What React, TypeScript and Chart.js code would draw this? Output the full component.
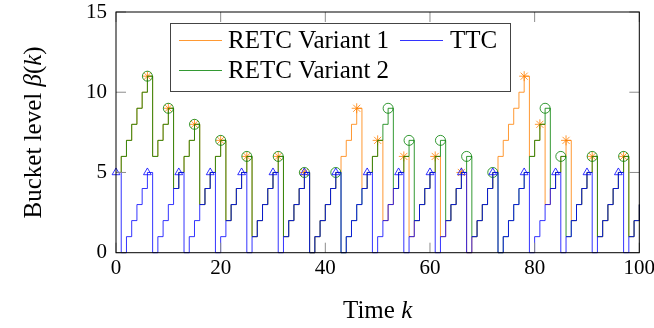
import { useEffect, useRef } from 'react';
import { Chart, registerables } from 'chart.js';

Chart.register(...registerables);

// Bucket level per time step k = 0..100
const RETC_V1 = [
  5, 6, 7, 8, 9, 10, 11,
  6, 7, 8, 9,
  4, 5, 6, 7, 8,
  3, 4, 5, 6, 7,
  2, 3, 4, 5, 6,
  1, 2, 3, 4, 5, 6,
  1, 2, 3, 4, 5,
  0, 1, 2, 3, 4, 5, 6, 7, 8, 9,
  4, 5, 6, 7,
  2, 3, 4, 5, 6,
  1, 2, 3, 4, 5, 6,
  1, 2, 3, 4, 5,
  0, 1, 2, 3, 4, 5, 6, 7, 8, 9, 10, 11,
  6, 7, 8,
  3, 4, 5, 6, 7,
  2, 3, 4, 5, 6,
  1, 2, 3, 4, 5, 6,
  1, 2, 3,
];

const TTC = [
  5, 0, 1, 2, 3, 4,
  5, 0, 1, 2, 3, 4,
  5, 0, 1, 2, 3, 4,
  5, 0, 1, 2, 3, 4,
  5, 0, 1, 2, 3, 4,
  5, 0, 1, 2, 3, 4,
  5, 0, 1, 2, 3, 4,
  5, 0, 1, 2, 3, 4,
  5, 0, 1, 2, 3, 4,
  5, 0, 1, 2, 3, 4,
  5, 0, 1, 2, 3, 4,
  5, 0, 1, 2, 3, 4,
  5, 0, 1, 2, 3, 4,
  5, 0, 1, 2, 3, 4,
  5, 0, 1, 2, 3, 4,
  5, 0, 1, 2, 3, 4,
  5, 0, 1, 2, 3,
];

const RETC_V2 = [
  5, 6, 7, 8, 9, 10, 11,
  6, 7, 8, 9,
  4, 5, 6, 7, 8,
  3, 4, 5, 6, 7,
  2, 3, 4, 5, 6,
  1, 2, 3, 4, 5, 6,
  1, 2, 3, 4, 5,
  0, 1, 2, 3, 4, 5,
  0, 1, 2, 3, 4, 5, 6, 7, 8, 9,
  4, 5, 6, 7,
  2, 3, 4, 5, 6, 7,
  2, 3, 4, 5, 6,
  1, 2, 3, 4, 5,
  0, 1, 2, 3, 4, 5, 6, 7, 8, 9,
  4, 5, 6,
  1, 2, 3, 4, 5, 6,
  1, 2, 3, 4, 5, 6,
  1, 2, 3,
];

const X_TICKS = [0, 20, 40, 60, 80, 100];
const Y_TICKS = [0, 5, 10, 15];
const SERIES_LABELS = ['RETC Variant 1', 'TTC', 'RETC Variant 2'];

const ORANGE = 'rgba(255,128,0,0.8)';
const BLUE = 'rgba(0,0,255,0.8)';
const GREEN = 'rgba(0,128,0,0.8)';
const SERIF = '"Liberation Serif", "Times New Roman", serif';

type Seg = { t: string; it?: boolean };

function drawSegs(ctx: CanvasRenderingContext2D, segs: Seg[], cx: number, baseY: number, size: number) {
  const widths = segs.map((s) => {
    ctx.font = `${s.it ? 'italic ' : ''}${size}px ${SERIF}`;
    return ctx.measureText(s.t).width;
  });
  const total = widths.reduce((a, b) => a + b, 0);
  let x = cx - total / 2;
  ctx.textAlign = 'left';
  ctx.textBaseline = 'alphabetic';
  segs.forEach((s, i) => {
    ctx.font = `${s.it ? 'italic ' : ''}${size}px ${SERIF}`;
    ctx.fillText(s.t, x, baseY);
    x += widths[i];
  });
}

const decorPlugin = {
  id: 'decor',
  afterDatasetsDraw(chart: any) {
    const { ctx, chartArea: a, scales } = chart;
    const xs = scales.x;
    const ys = scales.y;
    ctx.save();
    ctx.strokeStyle = '#8c8c8c';
    ctx.lineWidth = 1;
    const TL = 10;
    ctx.beginPath();
    for (const v of X_TICKS) {
      const px = xs.getPixelForValue(v);
      ctx.moveTo(px, a.bottom);
      ctx.lineTo(px, a.bottom - TL);
      ctx.moveTo(px, a.top);
      ctx.lineTo(px, a.top + TL);
    }
    for (const v of Y_TICKS) {
      const py = ys.getPixelForValue(v);
      ctx.moveTo(a.left, py);
      ctx.lineTo(a.left + TL, py);
      ctx.moveTo(a.right, py);
      ctx.lineTo(a.right - TL, py);
    }
    ctx.stroke();
    ctx.strokeStyle = '#000';
    ctx.strokeRect(a.left, a.top, a.right - a.left, a.bottom - a.top);
    ctx.restore();
  },
  afterDraw(chart: any) {
    const { ctx, chartArea: a } = chart;
    ctx.save();
    ctx.fillStyle = '#000';
    // x title
    drawSegs(ctx, [{ t: 'Time ' }, { t: 'k', it: true }], (a.left + a.right) / 2, 318, 25);
    // y title
    ctx.save();
    ctx.translate(41, (a.top + a.bottom) / 2);
    ctx.rotate(-Math.PI / 2);
    drawSegs(
      ctx,
      [{ t: 'Bucket level ' }, { t: 'β', it: true }, { t: '(' }, { t: 'k', it: true }, { t: ')' }],
      0,
      0,
      25
    );
    ctx.restore();

    // legend
    const bx = 170.5, by = 23.5, bw = 340, bh = 68;
    ctx.fillStyle = '#fff';
    ctx.fillRect(bx, by, bw, bh);
    ctx.strokeStyle = '#444';
    ctx.lineWidth = 1;
    ctx.strokeRect(bx, by, bw, bh);
    const entries = [
      { label: SERIES_LABELS[0], color: ORANGE, lx: 179, tx: 228, ly: 40.5, ty: 47.5 },
      { label: SERIES_LABELS[1], color: BLUE, lx: 400, tx: 450, ly: 40.5, ty: 47.5 },
      { label: SERIES_LABELS[2], color: GREEN, lx: 179, tx: 228, ly: 70.5, ty: 77.5 },
    ];
    for (const e of entries) {
      ctx.strokeStyle = e.color;
      ctx.beginPath();
      ctx.moveTo(e.lx, e.ly);
      ctx.lineTo(e.lx + 43, e.ly);
      ctx.stroke();
      ctx.fillStyle = '#000';
      ctx.font = `25px ${SERIF}`;
      ctx.textAlign = 'left';
      ctx.textBaseline = 'alphabetic';
      ctx.fillText(e.label, e.tx, e.ty);
    }
    ctx.restore();
  },
};

function markerRadius(values: number[], r: number) {
  return (c: any) => {
    const i = c.dataIndex;
    return i < values.length - 1 && values[i + 1] < values[i] ? r : 0;
  };
}

function toPoints(values: number[]) {
  return values.map((v, i) => ({ x: i, y: v }));
}

export default function App() {
  const ref = useRef<HTMLCanvasElement | null>(null);

  useEffect(() => {
    if (!ref.current) return;
    const chart = new Chart(ref.current, {
      type: 'line',
      data: {
        datasets: [
          {
            label: SERIES_LABELS[0],
            data: toPoints(RETC_V1),
            borderColor: ORANGE,
            borderWidth: 1,
            stepped: true,
            pointStyle: 'star',
            pointRadius: markerRadius(RETC_V1, 5),
            pointBorderColor: ORANGE,
            pointBackgroundColor: 'transparent',
            pointBorderWidth: 1,
            order: 2,
            clip: false,
          } as any,
          {
            label: SERIES_LABELS[1],
            data: toPoints(TTC),
            borderColor: BLUE,
            borderWidth: 1,
            stepped: true,
            pointStyle: 'triangle',
            pointRadius: markerRadius(TTC, 4.5),
            pointBorderColor: BLUE,
            pointBackgroundColor: 'transparent',
            pointBorderWidth: 1,
            order: 0,
            clip: false,
          },
          {
            label: SERIES_LABELS[2],
            data: toPoints(RETC_V2),
            borderColor: GREEN,
            borderWidth: 1,
            stepped: true,
            pointStyle: 'circle',
            pointRadius: markerRadius(RETC_V2, 5),
            pointBorderColor: GREEN,
            pointBackgroundColor: 'transparent',
            pointBorderWidth: 1,
            order: 1,
            clip: false,
          },
        ],
      },
      options: {
        animation: false,
        responsive: false,
        devicePixelRatio: 1,
        events: [],
        layout: { padding: { top: 12, right: 14.7, left: 0, bottom: 0 } },
        plugins: {
          legend: { display: false },
          tooltip: { enabled: false },
        },
        scales: {
          x: {
            type: 'linear',
            min: 0,
            max: 100,
            grid: { display: false, drawTicks: false },
            border: { display: false },
            ticks: {
              padding: 3,
              color: '#000',
              maxRotation: 0,
              autoSkip: false,
              font: { family: SERIF, size: 21 },
            },
            afterBuildTicks: (s: any) => {
              s.ticks = X_TICKS.map((v) => ({ value: v }));
            },
            afterFit: (s: any) => {
              s.height = 75.3;
              s.paddingLeft = 0;
              s.paddingRight = 0;
            },
          },
          y: {
            type: 'linear',
            min: 0,
            max: 15,
            grid: { display: false, drawTicks: false },
            border: { display: false },
            ticks: {
              padding: 9,
              color: '#000',
              autoSkip: false,
              font: { family: SERIF, size: 21 },
            },
            afterBuildTicks: (s: any) => {
              s.ticks = Y_TICKS.map((v) => ({ value: v }));
            },
            afterFit: (s: any) => {
              s.width = 116;
              s.paddingTop = 0;
              s.paddingBottom = 0;
            },
          },
        },
      },
      plugins: [decorPlugin],
    });
    return () => chart.destroy();
  }, []);

  return (
    <div style={{ position: 'absolute', left: 0, top: 0, width: 654, height: 328, background: '#fff' }}>
      <canvas ref={ref} width={654} height={328} style={{ width: 654, height: 328, display: 'block' }} />
    </div>
  );
}
